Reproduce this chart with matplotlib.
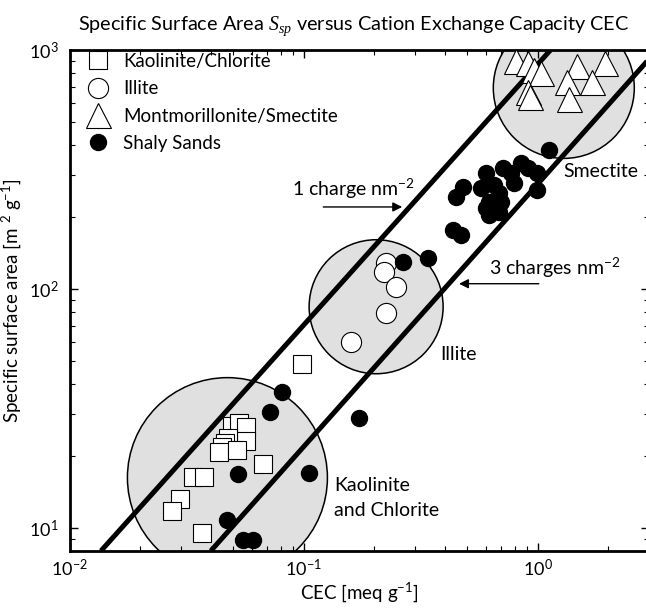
import numpy as np
import matplotlib
matplotlib.use("Agg")
import matplotlib.pyplot as plt
from matplotlib.patches import Circle
from matplotlib.transforms import ScaledTranslation

plt.rcParams['font.family'] = ['Lato', 'DejaVu Sans']
plt.rcParams['mathtext.fontset'] = 'custom'
plt.rcParams['mathtext.rm'] = 'Lato'
plt.rcParams['mathtext.it'] = 'Liberation Serif:italic'
plt.rcParams['mathtext.default'] = 'regular'

# Kaolinite / Chlorite (open squares)
kao_cec = [0.0495, 0.0531, 0.0564, 0.0564, 0.0476, 0.0462, 0.0449, 0.0435, 0.0521,
           0.0667, 0.0337, 0.0376, 0.0297, 0.0274, 0.0369, 0.098]
kao_ssa = [26.7, 27.5, 26.5, 23.1, 23.8, 22.7, 21.8, 20.8, 21.2,
           18.4, 16.3, 16.3, 13.2, 11.7, 9.5, 48.5]

# Illite (open circles)
ill_cec = [0.225, 0.220, 0.248, 0.225, 0.159]
ill_ssa = [128.5, 117.8, 101.9, 79.4, 60.0]

# Montmorillonite / Smectite (open triangles)
mon_cec = [0.806, 0.914, 0.962, 1.03, 0.914, 0.925, 1.47, 1.94, 1.33, 1.71, 1.36]
mon_ssa = [899, 883, 825, 801, 667, 636, 857, 883, 735, 735, 624]

# Shaly sands (filled dots)
sand_cec = [0.0806, 0.0721, 0.0526, 0.105, 0.0472, 0.0552, 0.0609, 0.172,
            0.266, 0.340, 0.435, 0.472, 1.114,
            0.481, 0.449, 0.604, 0.714, 0.773, 0.853, 0.914, 0.991, 0.991,
            0.653, 0.681, 0.575, 0.617, 0.700, 0.604, 0.687, 0.622, 0.796]
sand_ssa = [37.1, 30.6, 16.7, 17.0, 10.8, 8.9, 8.9, 28.9,
            129.7, 134.8, 176.5, 168.3, 381.6,
            267, 243, 306, 321, 306, 337, 321, 306, 260,
            272, 252, 265, 231, 231, 218, 210, 204, 278]

# charge density lines (end points)
line1_cec = [0.0136, 1.137]
line1_ssa = [8, 1000]
line3_cec = [0.0401, 3.0]
line3_ssa = [8, 917]

# grey clay-group regions: centre (cec, ssa), radius in inches
regions = {
    'kaolinite': (0.0472, 16.2, 1.00),
    'illite': (0.204, 84.1, 0.67),
    'smectite': (1.294, 693, 0.705),
}

fig = plt.figure(figsize=(6.46, 6.08), dpi=100)
ax = fig.add_axes([0.108, 0.094, 0.897, 0.824])
ax.set_xscale('log')
ax.set_yscale('log')
ax.set_xlim(0.01, 3)
ax.set_ylim(8, 1000)

for name, (cx, cy, r) in regions.items():
    tr = fig.dpi_scale_trans + ScaledTranslation(cx, cy, ax.transData)
    c = Circle((0, 0), r, transform=tr, facecolor='#e0e0e0', edgecolor='black',
               lw=1.1, zorder=1)
    ax.add_patch(c)

ax.plot(line1_cec, line1_ssa, color='black', lw=3.6, zorder=2, solid_capstyle='butt')
ax.plot(line3_cec, line3_ssa, color='black', lw=3.6, zorder=2, solid_capstyle='butt')

ax.plot(kao_cec, kao_ssa, 's', ms=12.5, mfc='white', mec='black', mew=0.8,
        ls='none', zorder=3, label='Kaolinite/Chlorite')
ax.plot(ill_cec, ill_ssa, 'o', ms=14.5, mfc='white', mec='black', mew=0.8,
        ls='none', zorder=3, label='Illite')
ax.plot(mon_cec, mon_ssa, '^', ms=18, mfc='white', mec='black', mew=0.8,
        ls='none', zorder=3, label='Montmorillonite/Smectite')
ax.plot(sand_cec, sand_ssa, 'o', ms=11.5, mfc='black', mec='black',
        ls='none', zorder=3, label='Shaly Sands')

ax.legend(loc='upper left', bbox_to_anchor=(0.0, 1.02), frameon=False, fontsize=13.5,
          handletextpad=0.55, labelspacing=0.55, borderaxespad=0.3, handlelength=1.6)

ax.text(0.1346, 13.3, 'Kaolinite\nand Chlorite', fontsize=14, ha='left',
        va='center', linespacing=1.55)
ax.text(0.458, 53.0, 'Illite', fontsize=14, ha='center', va='center')
ax.text(1.86, 309, 'Smectite', fontsize=14, ha='center', va='center')

ax.text(0.0887, 262, '1 charge nm$^{-2}$', fontsize=14, ha='left', va='center')
ax.annotate('', xy=(0.271, 220), xytext=(0.118, 220),
            arrowprops=dict(arrowstyle='-|>', color='black', lw=1.0,
                            mutation_scale=14))
ax.text(0.617, 122, '3 charges nm$^{-2}$', fontsize=14, ha='left', va='center')
ax.annotate('', xy=(0.449, 105), xytext=(1.04, 105),
            arrowprops=dict(arrowstyle='-|>', color='black', lw=1.0,
                            mutation_scale=14))

ax.set_xlabel('CEC [meq g$^{-1}$]', fontsize=13.5, labelpad=1)
ax.set_ylabel('Specific surface area [m $^{2}$ g$^{-1}$]', fontsize=13.5, labelpad=4)
ax.set_title(r'Specific Surface Area $\mathit{S}_{\mathit{sp}}$ versus Cation Exchange Capacity CEC',
             fontsize=14.3, pad=14, x=0.49)

for s in ax.spines.values():
    s.set_linewidth(2.0)
ax.tick_params(which='both', direction='in', top=True, right=True, labelsize=13)
ax.tick_params(which='major', length=6, width=1.0)
ax.tick_params(axis='x', which='major', pad=5)
ax.tick_params(axis='y', which='major', pad=8)
ax.tick_params(which='minor', length=3.5, width=0.8)

fig.savefig('out.png', dpi=100)
